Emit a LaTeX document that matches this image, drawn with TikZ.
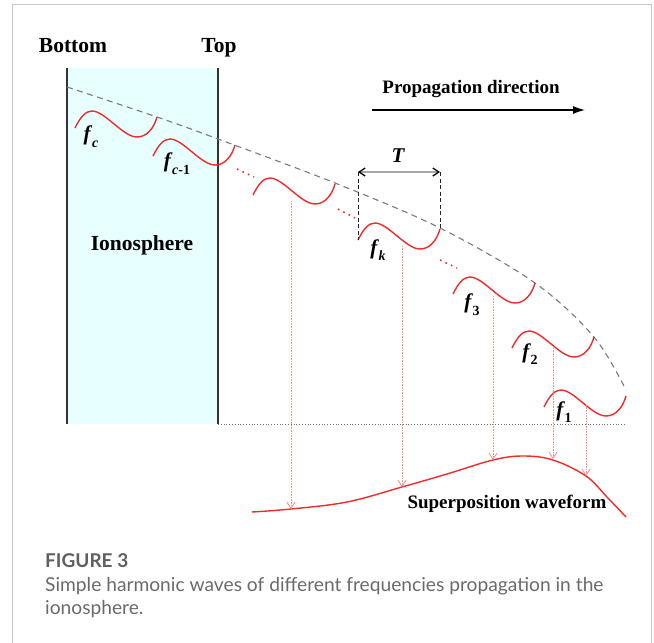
\documentclass[tikz,border=0pt]{standalone}
\usepackage{fontspec}
\setmainfont{Liberation Serif}
\newfontfamily\capfont{Lato}
\usetikzlibrary{arrows.meta}
\definecolor{ionofill}{HTML}{E8FFFF}
\definecolor{wred}{HTML}{F22A2A}
\definecolor{dropred}{HTML}{F59090}
\definecolor{dashgray}{HTML}{7A7A7A}
\definecolor{framegray}{HTML}{C8C8C8}
\definecolor{capgray}{HTML}{6A6A6A}
\newcommand\flab[1]{\textbf{\textit{f}}\kern-0.02em\raisebox{-0.32em}{\fontsize{14}{14}\selectfont\bfseries #1}}
\tikzset{
  wave/.style={wred, line width=1.4pt},
  wavepic/.pic={\draw[wave] (0,0) .. controls (5,-10) and (10,-17) .. (17,-17) .. controls (30,-17) and (48,9) .. (62,9) .. controls (72,9) and (79,0) .. (82,-11);},
  lbl/.style={font=\fontsize{21.5}{24}\selectfont\bfseries, inner sep=0pt},
  flabel/.style={font=\fontsize{21}{23}\selectfont, inner sep=0pt},
  reddots/.style={wred, line width=1.6pt, dash pattern=on 1.6pt off 4.4pt},
  drop/.style={dropred, line width=0.6pt, densely dotted, -{Straight Barb[length=6pt,width=8pt,line width=0.9pt]}},
}
\begin{document}
\begin{tikzpicture}[x=1pt,y=-1pt]
\useasboundingbox (0,0) rectangle (654,643);
% frame
\draw[framegray, line width=1pt] (12,643) -- (12,4) -- (651,4) -- (651,643);
% ionosphere
\fill[ionofill] (67,68) rectangle (218,424);
\draw[black!80, line width=1.5pt] (67,68) -- (67,424);
\draw[black!80, line width=1.5pt] (218,68) -- (218,424);
\draw[black!55, line width=0.8pt, dotted] (218,424) -- (625,424);
% labels
\node[lbl] (bottom) at (73,46) {Bottom};
\node[lbl] (top) at (219,48) {Top};
\node[lbl] (iono) at (142,245) {Ionosphere};
\node[lbl, font=\fontsize{19}{21}\selectfont\bfseries] (prop) at (471,89) {Propagation direction};
\coordinate (pa) at (372,110);
\coordinate (pb) at (585,110);
\draw[black, line width=1.2pt, -{Latex[length=12pt,width=8pt]}] (pa) -- (pb);
% dashed envelope
\draw[dashgray, line width=1.1pt, dash pattern=on 6pt off 4.5pt] plot[smooth, tension=0.55] coordinates {(67,87) (157,117) (218,139) (335,183) (440,228) (535,283) (594,337) (626,390)};
% waves
\pic at (75,128) {wavepic};
\pic at (153,156) {wavepic};
\pic at (253,195) {wavepic};
\pic at (358,240) {wavepic};
\pic at (453,294) {wavepic};
\pic at (512,348) {wavepic};
\pic at (544,407) {wavepic};
% red dots
\draw[reddots] (237,169) -- (254,177);
\draw[reddots] (338,209) -- (355,218);
\draw[reddots] (440,260) -- (457,268);
% wave labels
\node[flabel] (fc) at (91,137) {\flab{\textit{c}}};
\node[flabel] (fc1) at (177,164) {\flab{\textit{c}-1}};
\node[flabel] (fk) at (378,250) {\flab{\textit{k}}};
\node[flabel] (f3) at (472,305) {\flab{3}};
\node[flabel] (f2) at (530,354) {\flab{2}};
\node[flabel] (f1) at (564,412) {\flab{1}};
% period T
\coordinate (ta) at (358,172);
\coordinate (tb) at (440,172);
\coordinate (ta0) at (358,240);
\coordinate (tb0) at (440,229);
\draw[black!85, line width=1pt, dash pattern=on 4pt off 2.5pt] (ta) -- (ta0);
\draw[black!85, line width=1pt, dash pattern=on 4pt off 2.5pt] (tb) -- (tb0);
\draw[black!35, line width=1.2pt, {Straight Barb[length=6pt,width=8pt,line width=1.3pt,black]}-{Straight Barb[length=6pt,width=8pt,line width=1.3pt,black]}] (ta) -- (tb);
\node[lbl, font=\fontsize{21}{23}\selectfont\bfseries\itshape] (T) at (398,156) {T};
% superposition waveform
\draw[wred, line width=1.4pt] plot[smooth, tension=0.6] coordinates {(252,512) (291,509) (347,502) (402,487) (447,474) (493,460) (523,456) (553,460) (586,476) (607,497) (626,517)};
\node[lbl, font=\fontsize{19}{21}\selectfont\bfseries] (sup) at (507,504) {Superposition waveform};
% drop lines
\coordinate (s1) at (291,201); \coordinate (e1) at (291,509);
\coordinate (s2) at (402,246); \coordinate (e2) at (402,487);
\coordinate (s3) at (493,296); \coordinate (e3) at (493,460);
\coordinate (s4) at (553,348); \coordinate (e4) at (553,459);
\coordinate (s5) at (586,405); \coordinate (e5) at (586,476);
\draw[drop] (s1) -- (e1);
\draw[drop] (s2) -- (e2);
\draw[drop] (s3) -- (e3);
\draw[drop] (s4) -- (e4);
\draw[drop] (s5) -- (e5);
% caption
\node[anchor=base west, inner sep=0pt, text=capgray!90!black, font=\capfont\bfseries\fontsize{19}{23}\selectfont] (figno) at (45,567) {FIGURE 3};
\node[anchor=base west, inner sep=0pt, text=capgray, font=\capfont\fontsize{19.2}{23}\selectfont] (cap1) at (45,591) {Simple harmonic waves of different frequencies propagation in the};
\node[anchor=base west, inner sep=0pt, text=capgray, font=\capfont\fontsize{19.2}{23}\selectfont] (cap2) at (45,614) {ionosphere.};
\end{tikzpicture}
\end{document}
